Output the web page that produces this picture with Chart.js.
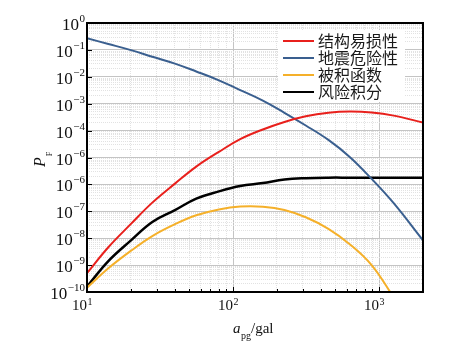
<!DOCTYPE html>
<html>
<head>
<meta charset="utf-8">
<script src="https://cdn.jsdelivr.net/npm/chart.js@4.4.1/dist/chart.umd.min.js"></script>
<style>
html, body { margin: 0; padding: 0; background: #fff; }
canvas { display: block; }
</style>
</head>
<body>
<canvas id="riskChart" width="472" height="352"></canvas>
<script>
// 横坐标 a_pg (gal)
var pga = [10, 14, 20, 28, 40, 56, 80, 112, 160, 225, 315, 450, 630, 890, 1260, 2000];
// 各曲线 P_F 读数
var fragility = [5.0e-10, 4.6e-9, 3.4e-8, 2.1e-7, 1.07e-6, 4.6e-6, 1.62e-5, 4.8e-5, 1.1e-4, 2.1e-4, 3.4e-4, 4.6e-4, 5.1e-4, 4.7e-4, 3.6e-4, 2.0e-4];
var hazard = [0.27, 0.166, 0.098, 0.056, 0.031, 0.0158, 0.0074, 0.0032, 0.0013, 4.6e-4, 1.55e-4, 4.5e-5, 1.05e-5, 1.6e-6, 2.0e-7, 8.3e-9];
var integrand = [1.45e-10, 7.6e-10, 3.4e-9, 1.2e-8, 3.3e-8, 7.1e-8, 1.17e-7, 1.5e-7, 1.48e-7, 1.12e-7, 6.0e-8, 2.24e-8, 6.0e-9, 1.0e-9, 6.3e-11, null];
var riskIntegral = [1.58e-10, 1.41e-9, 8.3e-9, 4.0e-8, 1.1e-7, 2.95e-7, 5.5e-7, 8.7e-7, 1.12e-6, 1.51e-6, 1.7e-6, 1.78e-6, 1.78e-6, 1.78e-6, 1.78e-6, 1.78e-6];

var seriesNames = ['结构易损性', '地震危险性', '被积函数', '风险积分'];
var seriesColors = ['#e8201c', '#3a5f8f', '#f5b02a', '#000000'];
var seriesWidths = [2, 2, 2, 2.5];

// 刻度标签 (原图 10^-5 处写作 10^-6)
var xTickValues = [10, 100, 1000];
var xTickExps = ['1', '2', '3'];
var yTickValues = [1, 1e-1, 1e-2, 1e-3, 1e-4, 1e-5, 1e-6, 1e-7, 1e-8, 1e-9, 1e-10];
var yTickExps = ['0', '−1', '−2', '−3', '−4', '−6', '−6', '−7', '−8', '−9', '−10'];

function isDecade(v) {
    var l = Math.log10(v);
    return Math.abs(l - Math.round(l)) < 1e-6;
}

function logTicks(lo, hi, maxVal) {
    var ticks = [];
    for (var e = lo; e <= hi; e++) {
        for (var k = 1; k <= 9; k++) {
            var v = k * Math.pow(10, e);
            if (v <= maxVal * (1 + 1e-9)) ticks.push({ value: v, major: k === 1 });
        }
    }
    return ticks;
}

function toPoints(arr) {
    return pga.map(function(x, i) { return { x: x, y: arr[i] }; });
}

var gridColor = function(c) {
    if (!c.tick) return '#c8c8c8';
    return isDecade(c.tick.value) ? '#c4c4c4' : '#e2e2e2';
};
var gridDash = function(c) {
    if (!c.tick) return [];
    return isDecade(c.tick.value) ? [] : [1, 1];
};

var decorPlugin = {
    id: 'decor',
    afterDraw: function(chart) {
        var ctx = chart.ctx;
        var area = chart.chartArea;
        var xs = chart.scales.x, ys = chart.scales.y;
        ctx.save();

        // 内侧刻度
        ctx.strokeStyle = '#000';
        ctx.lineWidth = 1;
        xs.ticks.forEach(function(t) {
            var px = Math.round(xs.getPixelForValue(t.value)) + 0.5;
            var len = isDecade(t.value) ? 5 : 3;
            ctx.beginPath();
            ctx.moveTo(px, area.bottom);
            ctx.lineTo(px, area.bottom - len);
            ctx.stroke();
        });
        yTickValues.forEach(function(v) {
            var py = Math.round(ys.getPixelForValue(v)) + 0.5;
            ctx.beginPath();
            ctx.moveTo(area.left, py);
            ctx.lineTo(area.left + 5, py);
            ctx.stroke();
        });

        // 边框
        ctx.lineWidth = 2;
        ctx.strokeRect(area.left, area.top, area.right - area.left, area.bottom - area.top);

        ctx.fillStyle = '#111';
        ctx.textBaseline = 'alphabetic';

        // y 轴刻度标签
        yTickValues.forEach(function(v, i) {
            var py = ys.getPixelForValue(v);
            ctx.font = "11px 'Liberation Serif'";
            ctx.textAlign = 'right';
            var right = area.left - 2;
            ctx.fillText(yTickExps[i], right, py - 1);
            var w = ctx.measureText(yTickExps[i]).width;
            ctx.font = "17px 'Liberation Serif'";
            ctx.fillText('10', right - w - 0.5, py + 7);
        });

        // x 轴刻度标签
        xTickValues.forEach(function(v, i) {
            var px = xs.getPixelForValue(v);
            ctx.font = "15px 'Liberation Serif'";
            ctx.textAlign = 'right';
            ctx.fillText('10', px, area.bottom + 18);
            ctx.font = "10px 'Liberation Serif'";
            ctx.textAlign = 'left';
            ctx.fillText(xTickExps[i], px + 0.5, area.bottom + 13);
        });

        // x 轴标题 a_pg/gal
        ctx.textAlign = 'left';
        var tx = 233;
        ctx.font = "italic 15px 'Liberation Serif'";
        ctx.fillText('a', tx, 332.5);
        tx += ctx.measureText('a').width + 0.5;
        ctx.font = "10px 'Liberation Serif'";
        ctx.fillText('pg', tx, 338.5);
        tx += ctx.measureText('pg').width;
        ctx.font = "15px 'Liberation Serif'";
        ctx.fillText('/gal', tx, 332.5);

        // y 轴标题 P_F
        ctx.save();
        ctx.translate(45, 167);
        ctx.rotate(-Math.PI / 2);
        ctx.font = "italic 16px 'Liberation Serif'";
        ctx.fillText('P', 0, 0);
        var pw = ctx.measureText('P').width;
        ctx.font = "8px 'Liberation Serif'";
        ctx.fillText('F', pw + 1, 7);
        ctx.restore();

        // 图例
        ctx.fillStyle = '#fff';
        ctx.fillRect(278, 30, 127, 72);
        ctx.font = "16px 'Noto Sans CJK SC'";
        ctx.textBaseline = 'middle';
        ctx.textAlign = 'left';
        for (var i = 0; i < seriesNames.length; i++) {
            var ly = 41 + i * 17;
            ctx.strokeStyle = seriesColors[i];
            ctx.lineWidth = 2;
            ctx.beginPath();
            ctx.moveTo(283, ly);
            ctx.lineTo(314, ly);
            ctx.stroke();
            ctx.fillStyle = '#1a1a1a';
            ctx.fillText(seriesNames[i], 318, ly);
        }
        ctx.restore();
    }
};

var seriesData = [fragility, hazard, integrand, riskIntegral];
var datasets = seriesData.map(function(arr, i) {
    return {
        label: seriesNames[i],
        data: toPoints(arr),
        borderColor: seriesColors[i],
        borderWidth: seriesWidths[i],
        pointRadius: 0,
        fill: false,
        tension: 0.4,
        spanGaps: false
    };
});

new Chart(document.getElementById('riskChart'), {
    type: 'line',
    data: { datasets: datasets },
    options: {
        responsive: false,
        animation: false,
        devicePixelRatio: 1,
        layout: { padding: { left: 87, top: 23, right: 49, bottom: 60 } },
        plugins: {
            legend: { display: false },
            tooltip: { enabled: false }
        },
        scales: {
            x: {
                type: 'logarithmic',
                min: 10,
                max: 2000,
                afterBuildTicks: function(scale) { scale.ticks = logTicks(1, 3, 2000); },
                ticks: { display: false },
                grid: { color: gridColor, lineWidth: 1, drawTicks: false },
                border: { display: false, dash: gridDash }
            },
            y: {
                type: 'logarithmic',
                min: 1e-10,
                max: 1,
                afterBuildTicks: function(scale) { scale.ticks = logTicks(-10, 0, 1); },
                ticks: { display: false },
                grid: { color: gridColor, lineWidth: 1, drawTicks: false },
                border: { display: false, dash: gridDash }
            }
        }
    },
    plugins: [decorPlugin]
});
</script>
</body>
</html>
